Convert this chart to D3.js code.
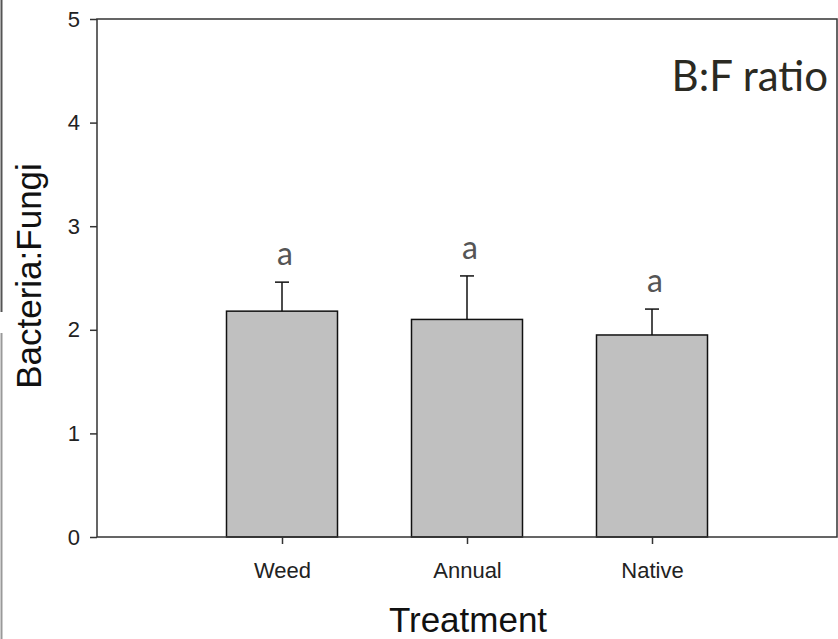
<!DOCTYPE html>
<html>
<head>
<meta charset="utf-8">
<script src="https://cdn.jsdelivr.net/npm/d3@7"></script>
<style>
  body { margin: 0; background: #fff; }
  svg { display: block; }
</style>
</head>
<body>
<script>
// values
var categories = ["Weed", "Annual", "Native"];
var means = [2.18, 2.10, 1.95];
var errTops = [2.46, 2.52, 2.20];
var letters = ["a", "a", "a"];
var yTicks = [0, 1, 2, 3, 4, 5];

var width = 838, height = 639;
var plotLeft = 97, plotRight = 837, plotTop = 19, plotBottom = 537;

var svg = d3.select("body")
  .append("svg")
  .attr("width", width)
  .attr("height", height);

// categories sit at 1,2,3 on a 0..4 axis
var xScale = d3.scaleLinear()
  .domain([0, 4])
  .range([plotLeft, plotRight]);

var yScale = d3.scaleLinear()
  .domain([0, 5])
  .range([plotBottom, plotTop]);

// gray page border on the left
svg.append("line")
  .attr("x1", 1.5).attr("x2", 1.5)
  .attr("y1", 0).attr("y2", 312)
  .attr("stroke", "#555").attr("stroke-width", 2);
svg.append("line")
  .attr("x1", 1.5).attr("x2", 1.5)
  .attr("y1", 333).attr("y2", height)
  .attr("stroke", "#999").attr("stroke-width", 2);

var bars = svg.selectAll("rect.bar")
  .data(means)
  .enter()
  .append("rect")
    .attr("class", "bar")
    .attr("x", function(d, i) { return xScale(i + 1 - 0.3); })
    .attr("width", xScale(0.6) - xScale(0))
    .attr("y", function(d) { return yScale(d); })
    .attr("height", function(d) { return yScale(0) - yScale(d); })
    .attr("fill", "#c0c0c0")
    .attr("stroke", "#111")
    .attr("stroke-width", 1.5);

// error bars, upper side only
svg.selectAll("line.err")
  .data(errTops)
  .enter()
  .append("line")
    .attr("class", "err")
    .attr("x1", function(d, i) { return xScale(i + 1); })
    .attr("x2", function(d, i) { return xScale(i + 1); })
    .attr("y1", function(d, i) { return yScale(means[i]); })
    .attr("y2", function(d) { return yScale(d); })
    .attr("stroke", "#111")
    .attr("stroke-width", 1.5);

svg.selectAll("line.cap")
  .data(errTops)
  .enter()
  .append("line")
    .attr("class", "cap")
    .attr("x1", function(d, i) { return xScale(i + 1) - 7; })
    .attr("x2", function(d, i) { return xScale(i + 1) + 7; })
    .attr("y1", function(d) { return yScale(d); })
    .attr("y2", function(d) { return yScale(d); })
    .attr("stroke", "#111")
    .attr("stroke-width", 1.5);

svg.selectAll("text.letter")
  .data(letters)
  .enter()
  .append("text")
    .attr("class", "letter")
    .attr("x", function(d, i) { return xScale(i + 1) + 3; })
    .attr("y", function(d, i) { return yScale(errTops[i]) - 17; })
    .attr("text-anchor", "middle")
    .style("font-family", "Lato, 'Open Sans', sans-serif")
    .style("font-size", "32px")
    .attr("fill", "#555")
    .text(function(d) { return d; });

// frame
svg.append("rect")
  .attr("x", plotLeft).attr("y", plotTop)
  .attr("width", plotRight - plotLeft).attr("height", plotBottom - plotTop)
  .attr("fill", "none")
  .attr("stroke", "#333")
  .attr("stroke-width", 1.5);

var yAxis = svg.append("g")
  .attr("transform", `translate(${plotLeft},0)`)
  .call(d3.axisLeft(yScale).tickValues(yTicks).tickSize(7).tickSizeOuter(0).tickPadding(10)
    .tickFormat(d3.format("d")));

var xAxis = svg.append("g")
  .attr("transform", `translate(0,${plotBottom})`)
  .call(d3.axisBottom(xScale).tickValues([1, 2, 3]).tickSize(7).tickSizeOuter(0).tickPadding(18)
    .tickFormat(function(d) { return categories[d - 1]; }));

svg.selectAll(".domain").remove();
svg.selectAll(".tick line").attr("stroke", "#333").attr("stroke-width", 1.5);
svg.selectAll(".tick text")
  .style("font-family", "'Liberation Sans', Arial, sans-serif")
  .style("font-size", "22px")
  .attr("fill", "#222");

svg.append("text")
  .attr("x", 468)
  .attr("y", 632)
  .attr("text-anchor", "middle")
  .style("font-family", "'Liberation Sans', Arial, sans-serif")
  .style("font-size", "35px")
  .attr("fill", "#111")
  .text("Treatment");

svg.append("text")
  .attr("transform", "translate(41,276) rotate(-90)")
  .attr("text-anchor", "middle")
  .style("font-family", "'Liberation Sans', Arial, sans-serif")
  .style("font-size", "35px")
  .attr("fill", "#111")
  .text("Bacteria:Fungi");

svg.append("text")
  .attr("x", 828)
  .attr("y", 91)
  .attr("text-anchor", "end")
  .style("font-family", "Lato, 'Open Sans', sans-serif")
  .style("font-size", "42px")
  .attr("fill", "#2b2a22")
  .text("B:F ratio");
</script>
</body>
</html>
